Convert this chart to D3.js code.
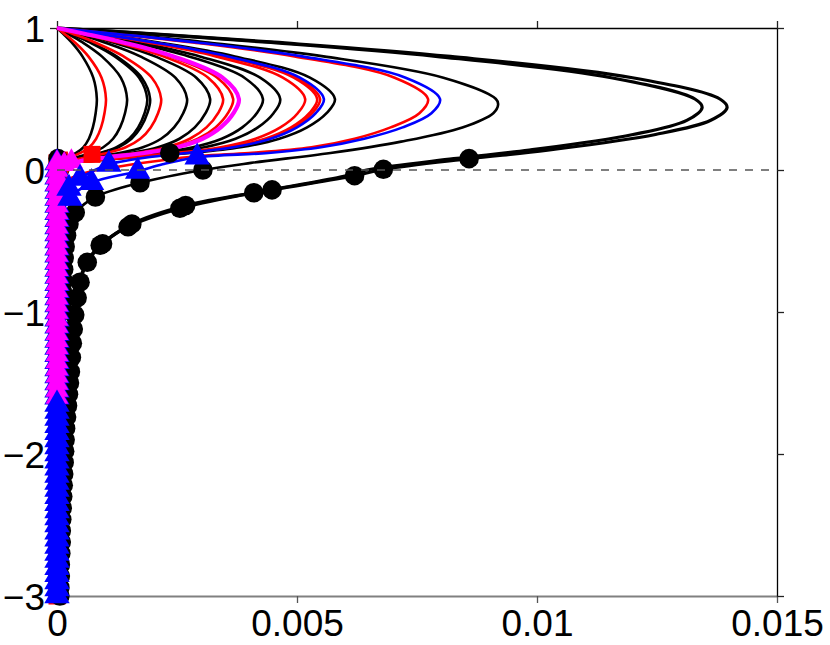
<!DOCTYPE html>
<html>
<head>
<meta charset="utf-8">
<script src="https://cdn.jsdelivr.net/npm/d3@7"></script>
<style>
  body { margin: 0; background: #fff; }
  text { font-family: "Liberation Sans", Arial, Helvetica, sans-serif; }
</style>
</head>
<body>
<div id="chart"></div>
<script>
// all x values are in units of 1e-3
const xTicks = [0, 5, 10, 15];
const xTickLabels = ["0", "0.005", "0.01", "0.015"];
const yTicks = [1, 0, -1, -2, -3];
const yTickLabels = ["1", "0", "\u22121", "\u22122", "\u22123"];

// shared depths of the simple profiles
const profileY = [1, 0.96, 0.9, 0.8, 0.65, 0.5, 0.4, 0.3, 0.22, 0.16, 0.12, 0.09, 0.06, 0.03, -3];

const blackProfiles = [
  [0, .125, .30, .53, .755, .83, .805, .747, .664, .548, .398, .232, .10, .04, .02],
  [0, .219, .526, .934, 1.329, 1.46, 1.416, 1.314, 1.168, .964, .701, .409, .175, .073, .02],
  [0, .282, .677, 1.203, 1.711, 1.88, 1.824, 1.692, 1.504, 1.241, .902, .526, .226, .094, .02],
  [0, .291, .698, 1.242, 1.765, 1.94, 1.882, 1.746, 1.552, 1.28, .931, .543, .233, .097, .02],
  [0, .407, .976, 1.734, 2.466, 2.71, 2.629, 2.439, 2.168, 1.789, 1.301, .759, .325, .136, .02],
  [0, .479, 1.148, 2.042, 2.903, 3.19, 3.094, 2.871, 2.552, 2.105, 1.531, .893, .383, .16, .02],
  [0, .644, 1.544, 2.746, 3.904, 4.29, 4.161, 3.861, 3.432, 2.831, 2.059, 1.201, .515, .215, .02],
  [0, .698, 1.674, 2.976, 4.232, 4.65, 4.511, 4.185, 3.72, 3.069, 2.232, 1.302, .558, .233, .02],
  [0, .869, 2.084, 3.706, 5.269, 5.79, 5.616, 5.211, 4.632, 3.821, 2.779, 1.621, .695, .29, .02]
];

const redProfiles = [
  [0, .153, .367, .653, .928, 1.02, .989, .918, .816, .673, .49, .286, .122, .051, .02],
  [0, .326, .781, 1.389, 1.975, 2.17, 2.105, 1.953, 1.736, 1.432, 1.042, .608, .26, .109, .02],
  [0, .519, 1.246, 2.214, 3.149, 3.46, 3.356, 3.114, 2.768, 2.284, 1.661, .969, .415, .173, .02],
  [0, .551, 1.321, 2.349, 3.34, 3.67, 3.56, 3.303, 2.936, 2.422, 1.762, 1.028, .44, .184, .02],
  [0, .776, 1.861, 3.309, 4.705, 5.17, 5.015, 4.653, 4.136, 3.412, 2.482, 1.448, .62, .259, .02],
  [0, .813, 1.951, 3.469, 4.932, 5.42, 5.257, 4.878, 4.336, 3.577, 2.602, 1.518, .65, .271, .02],
  [0, .822, 1.973, 3.507, 4.987, 5.48, 5.316, 4.932, 4.384, 3.617, 2.63, 1.534, .658, .274, .02]
];

const magentaProfile = [0, .569, 1.364, 2.426, 3.449, 3.79, 3.676, 3.411, 3.032, 2.501, 1.819, 1.061, .455, .19, .02];

// profiles whose lower part reaches into the bottom layer
const redWide = [[0,1],[1.16,0.96],[2.783,0.9],[4.947,0.8],[7.034,0.65],[7.73,0.5],[7.55,0.4],[6.95,0.3],[6.2,0.22],[5.3,0.16],[4.0,0.12],[3.0,0.1],[2.0,0.06],[1.2,0.02],[0.6,-0.02],[0.2,-0.08],[0.05,-0.2],[0.02,-3]];

const blueProfiles = [
  [[0,1],[0.834,0.96],[2.002,0.9],[3.558,0.8],[5.06,0.65],[5.56,0.5],[5.39,0.4],[5.0,0.3],[4.45,0.22],[3.67,0.16],[2.7,0.12],[1.9,0.09],[1.35,0.06],[1.08,0.04],[0.48,-0.06],[0.25,-0.13],[0.08,-0.3],[0.02,-3]],
  [[0,1],[1.197,0.96],[2.873,0.9],[5.107,0.8],[7.262,0.65],[7.98,0.5],[7.8,0.4],[7.2,0.3],[6.4,0.22],[5.5,0.16],[4.4,0.12],[2.92,0.09],[2.2,0.04],[1.68,-0.01],[0.72,-0.09],[0.27,-0.2],[0.08,-0.35],[0.02,-3]]
];

const blackMid = [[0,1],[1.314,0.96],[3.088,0.9],[5.551,0.8],[8.05,0.65],[9.144,0.5],[9.19,0.46],[9.089,0.4],[8.446,0.3],[7.168,0.2],[5.698,0.12],[4.044,0.05],[3.04,0.0],[1.73,-0.09],[0.8,-0.19],[0.38,-0.3],[0.25,-0.38],[0.2,-0.46],[0.15,-0.62],[0.12,-0.86],[0.1,-1.5],[0.06,-3]];

const blackBig = [
  [[0,1],[1.855,0.96],[4.368,0.9],[7.889,0.8],[11.545,0.65],[13.29,0.5],[13.44,0.44],[13.12,0.35],[12.0,0.25],[9.84,0.14],[8.265,0.08],[6.45,0.0],[5.9,-0.05],[4.1,-0.16],[2.56,-0.27],[1.48,-0.4],[0.9,-0.53],[0.6,-0.66],[0.46,-0.8],[0.39,-0.96],[0.33,-1.13],[0.28,-1.33],[0.23,-1.55],[0.18,-1.8],[0.14,-2.1],[0.1,-2.45],[0.06,-3]],
  [[0,1],[1.926,0.96],[4.537,0.9],[8.195,0.8],[11.99,0.65],[13.81,0.5],[13.96,0.44],[13.62,0.35],[12.47,0.25],[10.22,0.14],[8.585,0.08],[6.8,0.005],[6.2,-0.04],[4.48,-0.14],[2.68,-0.25],[1.56,-0.38],[0.95,-0.52],[0.63,-0.65],[0.48,-0.79],[0.41,-0.94],[0.35,-1.11],[0.3,-1.32],[0.25,-1.55],[0.19,-1.8],[0.15,-2.1],[0.11,-2.45],[0.07,-3]]
];

// depths of the bottom-layer nodes
const gridY = [0.05, 0, -0.05, -0.1, -0.15, -0.2, -0.25, -0.3, -0.35, -0.4, -0.45, -0.5, -0.55, -0.6, -0.65, -0.7, -0.75, -0.8, -0.85, -0.9, -0.95, -1, -1.05, -1.1, -1.15, -1.2, -1.25, -1.3, -1.35, -1.4, -1.45, -1.5, -1.55, -1.6, -1.65, -1.7, -1.75, -1.8, -1.85, -1.9, -1.95, -2, -2.05, -2.1, -2.15, -2.2, -2.25, -2.3, -2.35, -2.4, -2.45, -2.5, -2.55, -2.6, -2.65, -2.7, -2.75, -2.8, -2.85, -2.9, -2.95, -3];
const magentaEndY = -1.6;

const bigCircles = [[8.585,0.08],[6.8,0.005],[6.2,-0.04],[4.48,-0.14],[4.1,-0.16],[2.68,-0.25],[2.56,-0.27],[1.56,-0.38],[1.48,-0.4],[0.95,-0.52],[0.9,-0.53],[0.63,-0.65],[0.48,-0.79],[0.42,-0.9],[0.37,-1.02],[0.34,-1.12],[0.32,-1.22],[0.3,-1.32],[0.28,-1.42],[0.26,-1.5],[0.24,-1.58],[0.22,-1.66],[0.2,-1.74],[0.18,-1.82],[0.17,-1.9],[0.16,-1.98],[0.15,-2.06],[0.14,-2.14],[0.13,-2.22],[0.12,-2.3],[0.11,-2.38],[0.1,-2.46],[0.09,-2.54],[0.09,-2.62],[0.08,-2.7],[0.07,-2.78],[0.07,-2.86],[0.06,-2.94],[0.06,-3.0]];
const midCircles = [[3.04,0.0],[1.73,-0.09],[0.8,-0.19],[0.38,-0.3],[0.25,-0.38],[0.2,-0.46],[0.17,-0.54],[0.15,-0.62],[0.14,-0.7],[0.13,-0.78],[0.12,-0.86],[0.11,-0.94]];
const extraCircles = [[2.35,0.12],[0.02,0.08]];
const extraSquares = [[0.73,0.11],[0.05,0.07]];
const magentaTop = [[0.3,0.06],[0.15,0.04]];
const blueUpper = [[2.92,0.09],[1.68,-0.01],[0.72,-0.09],[0.27,-0.2],[1.08,0.04],[0.48,-0.06],[0.25,-0.13]];

const W = 830, H = 645;
const x = d3.scaleLinear().domain([0, 15]).range([57, 777]);
const y = d3.scaleLinear().domain([-3, 1]).range([596, 28]);

const svg = d3.select("#chart").append("svg")
    .attr("width", W)
    .attr("height", H);

// axes
const gBottom = svg.append("g")
    .attr("transform", `translate(0,${y(-3)})`)
    .call(d3.axisBottom(x).tickValues(xTicks).tickFormat((d, i) => xTickLabels[i])
        .tickSize(7).tickSizeOuter(0).tickPadding(7));
gBottom.select(".domain").attr("stroke", "#808080").attr("stroke-width", 2);
gBottom.selectAll(".tick line").attr("stroke", "#555").attr("stroke-width", 1.3);

const gTop = svg.append("g")
    .attr("transform", `translate(0,${y(1)})`)
    .call(d3.axisTop(x).tickValues(xTicks).tickFormat("").tickSize(7).tickSizeOuter(0));

const gLeft = svg.append("g")
    .attr("transform", `translate(${x(0)},0)`)
    .call(d3.axisLeft(y).tickValues(yTicks).tickFormat((d, i) => yTickLabels[i])
        .tickSize(7).tickSizeOuter(0).tickPadding(5));

const gRight = svg.append("g")
    .attr("transform", `translate(${x(15)},0)`)
    .call(d3.axisRight(y).tickValues(yTicks).tickFormat("").tickSize(7).tickSizeOuter(0));

[gTop, gLeft, gRight].forEach(g => {
    g.select(".domain").attr("stroke", "#000").attr("stroke-width", 1.3);
    g.selectAll(".tick line").attr("stroke", "#222").attr("stroke-width", 1.3);
});
svg.selectAll(".tick text")
    .attr("fill", "#000")
    .style("font-size", "37px")
    .style("font-family", "'Liberation Sans', Arial, Helvetica, sans-serif");
gLeft.selectAll(".tick text").attr("dy", "0.36em");

// curves
const line = d3.line()
    .x(d => x(d[0]))
    .y(d => y(d[1]))
    .curve(d3.curveCatmullRom.alpha(0.5));
const toPoints = xs => xs.map((v, i) => [v, profileY[i]]);

const curves = svg.append("g").attr("fill", "none");

function drawLine(points, color, width) {
    curves.append("path")
        .attr("d", line(points))
        .attr("stroke", color)
        .attr("stroke-width", width)
        .attr("stroke-linejoin", "round");
}

blackProfiles.forEach(p => drawLine(toPoints(p), "#000", 2.6));
drawLine(blackMid, "#000", 2.6);
blackBig.forEach(p => drawLine(p, "#000", 3.2));
redProfiles.forEach(p => drawLine(toPoints(p), "#ff0000", 2.6));
drawLine(redWide, "#ff0000", 2.6);
blueProfiles.forEach(p => drawLine(p, "#0000ff", 2.6));
drawLine(toPoints(magentaProfile), "#ff00ff", 4.2);

// markers
const marks = svg.append("g");

function drawSymbols(points, type, size, color) {
    marks.append("g")
        .selectAll("path")
        .data(points)
        .join("path")
        .attr("transform", d => `translate(${x(d[0])},${y(d[1])})`)
        .attr("d", d3.symbol(type, size))
        .attr("fill", color);
}

const columnAll = gridY.map(v => [0, v]);
const columnUpper = gridY.filter(v => v >= magentaEndY).map(v => [0, v]);
const columnLower = gridY.filter(v => v < magentaEndY).map(v => [0, v]);

drawSymbols(columnAll.concat(extraSquares), d3.symbolSquare, 290, "#ff0000");
drawSymbols(bigCircles.concat(midCircles, extraCircles), d3.symbolCircle, 300, "#000");
drawSymbols(columnUpper, d3.symbolTriangle, 280, "#0000ff");
drawSymbols(magentaTop.concat(columnUpper), d3.symbolTriangle, 230, "#ff00ff");
drawSymbols(columnLower.concat(blueUpper), d3.symbolTriangle, 280, "#0000ff");

// interface line
svg.append("line")
    .attr("x1", x(0)).attr("x2", x(15))
    .attr("y1", y(0)).attr("y2", y(0))
    .attr("stroke", "#555")
    .attr("stroke-width", 1.3)
    .attr("stroke-dasharray", "8,8");
</script>
</body>
</html>
